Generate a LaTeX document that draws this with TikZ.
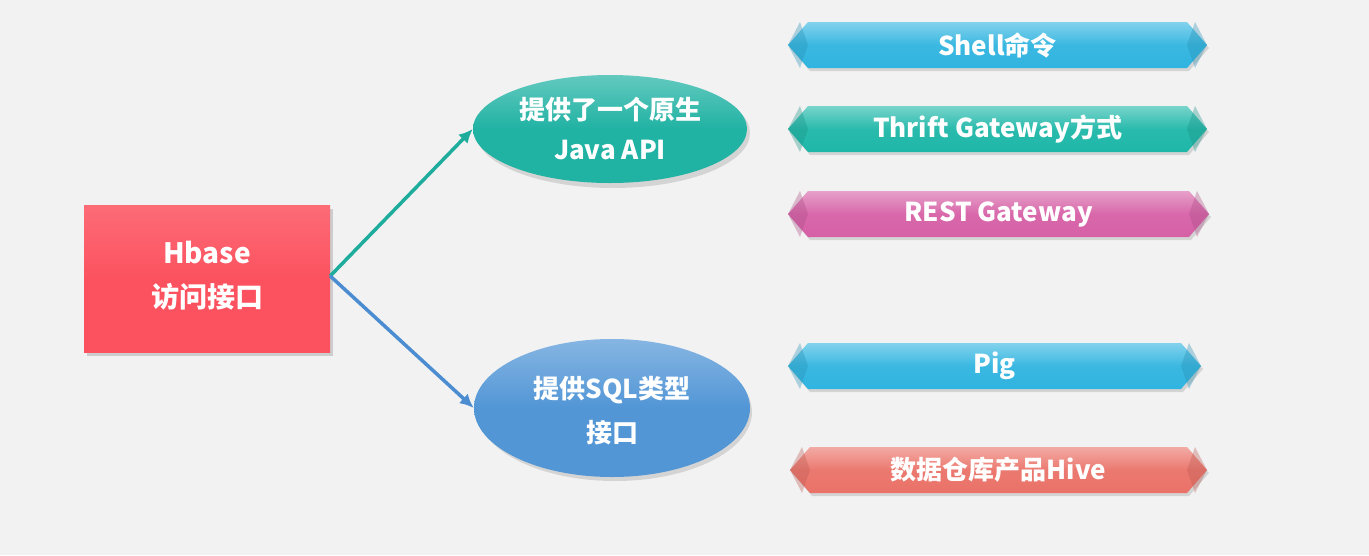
\documentclass[tikz,border=0pt]{standalone}
\usepackage{fontspec}
\setmainfont{Noto Sans CJK SC}
\usetikzlibrary{shapes.geometric,arrows.meta}
\definecolor{bg}{RGB}{242,242,242}
\definecolor{hred}{RGB}{252,82,95}
\definecolor{tealE}{RGB}{32,178,163}
\definecolor{blueE}{RGB}{82,150,214}
\definecolor{skyB}{RGB}{48,180,224}
\definecolor{tealB}{RGB}{30,183,168}
\definecolor{pinkB}{RGB}{214,96,166}
\definecolor{salmonB}{RGB}{234,114,104}
\definecolor{arrT}{RGB}{30,172,156}
\definecolor{arrB}{RGB}{76,140,208}
\tikzset{
  lbl/.style={text=white,font=\bfseries\fontsize{26}{36}\selectfont,align=center,inner sep=0pt},
  biglbl/.style={lbl,font=\bfseries\fontsize{28}{40}\selectfont},
  conn/.style={line width=3.5pt,-{Latex[length=14pt,width=13pt]}},
}
\newcommand\mybanner[6]{%
  \fill[black,opacity=0.12] (#2+2,#4+3) -- (#2+22,#4-20) -- (#3-18,#4-20) -- (#3+2,#4+3) -- (#3-18,#4+26) -- (#2+22,#4+26) -- cycle;
  \shade[top color=#5!60!white, bottom color=#5, middle color=#5!95!white] (#2,#4) -- (#2+20,#4-23) -- (#3-20,#4-23) -- (#3,#4) -- (#3-20,#4+23) -- (#2+20,#4+23) -- cycle;
  \fill[#5!80!black,opacity=0.35] (#2,#4) -- (#2+12,#4-23) -- (#2+20,#4) -- (#2+12,#4+23) -- cycle;
  \fill[#5!80!black,opacity=0.35] (#3,#4) -- (#3-12,#4-23) -- (#3-20,#4) -- (#3-12,#4+23) -- cycle;
  \node[lbl] (#1) at ({(#2+#3)/2},#4) {#6};
}
\begin{document}
\begin{tikzpicture}[x=1pt,y=-1pt]
\fill[bg] (0,0) rectangle (1369,555);
\useasboundingbox (0,0) rectangle (1369,555);
% left box
\fill[black,opacity=0.15] (87,209) rectangle (333,356);
\shade[top color=hred!85!white, bottom color=hred, middle color=hred] (84,205) rectangle (330,352);
\node[biglbl,minimum width=246pt,minimum height=147pt] (hb) at (207,276) {Hbase\\[4pt]访问接口};
% ellipses
\fill[black,opacity=0.12] (613,133) ellipse [x radius=137, y radius=55];
\node[ellipse,minimum width=274pt,minimum height=108pt,inner sep=0pt,top color=tealE!70!white,bottom color=tealE,middle color=tealE] (api) at (610,129) {};
\node[lbl] (apit) at (610,129) {提供了一个原生\\[4pt]Java API};
\fill[black,opacity=0.12] (615,412) ellipse [x radius=137, y radius=69];
\node[ellipse,minimum width=276pt,minimum height=138pt,inner sep=0pt,top color=blueE!70!white,bottom color=blueE,middle color=blueE] (sql) at (612,408) {};
\node[lbl] (sqlt) at (612,411) {提供SQL类型\\[8pt]接口};
% connectors
\draw[conn,arrT] (hb.east) -- (api.west);
\draw[conn,arrB] (hb.east) -- (sql.west);
% banners
\mybanner{shell}{788}{1207}{45}{skyB}{Shell命令}
\mybanner{thrift}{788}{1207}{129}{tealB}{Thrift Gateway方式}
\mybanner{rest}{788}{1209}{214}{pinkB}{REST Gateway}
\mybanner{pig}{788}{1201}{366}{skyB}{Pig}
\mybanner{hive}{790}{1207}{470}{salmonB}{数据仓库产品Hive}
\end{tikzpicture}
\end{document}
